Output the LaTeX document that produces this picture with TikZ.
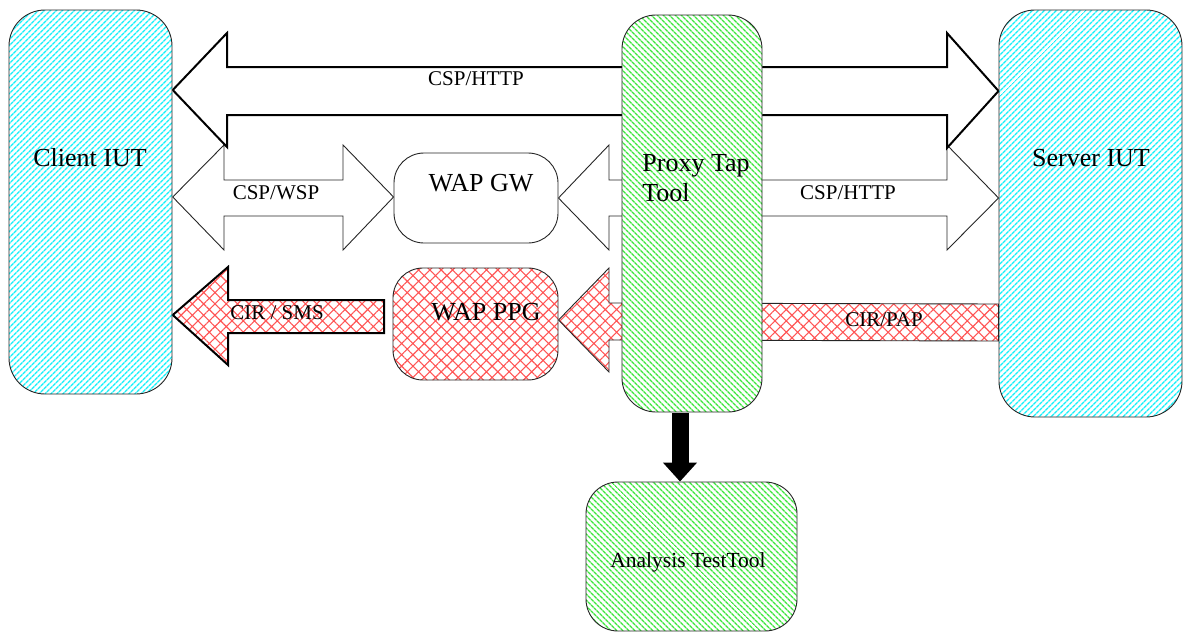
\documentclass[tikz,border=0pt]{standalone}
\usepackage{fontspec}
\setmainfont{Liberation Serif}
\usetikzlibrary{patterns.meta,arrows.meta}
\pgfdeclarelayer{background}
\pgfsetlayers{background,main}
\definecolor{hcyan}{RGB}{20,240,250}
\definecolor{hgreen}{RGB}{60,230,60}
\definecolor{hred}{RGB}{255,85,85}
\tikzset{
  boxbase/.style={draw=black!85, line width=0.9pt, inner sep=0pt, preaction={fill=white}},
  cyanbox/.style={boxbase, rounded corners=36pt, pattern={Lines[angle=45,distance=4pt,line width=1.5pt]}, pattern color=hcyan},
  greenbox/.style={boxbase, rounded corners=34pt, pattern={Lines[angle=-45,distance=4pt,line width=1.5pt]}, pattern color=hgreen},
  redfill/.style={preaction={fill=white}, pattern={Hatch[angle=45,distance=8pt,line width=1.1pt]}, pattern color=hred},
  wapbox/.style={draw=black!85, line width=0.9pt, inner sep=0pt, rounded corners=30pt, fill=white},
  thinarrow/.style={draw=black!85, line width=0.9pt, fill=white, line join=miter},
  thickarrow/.style={draw=black, line width=2pt, fill=white, line join=miter},
  bigtxt/.style={font=\fontsize{26}{30}\selectfont, inner sep=0pt},
  midtxt/.style={font=\fontsize{21}{24}\selectfont, inner sep=0pt},
  smalltxt/.style={font=\fontsize{21.5}{24}\selectfont, inner sep=0pt},
}
\begin{document}
\begin{tikzpicture}[x=1pt,y=-1pt]
\useasboundingbox (0,0) rectangle (1187,632);
% main boxes
\node[cyanbox, minimum width=163pt, minimum height=384pt] (client) at (90.5,202) {};
\node[cyanbox, minimum width=183pt, minimum height=407pt] (server) at (1090.5,213.5) {};
\node[wapbox, minimum width=164pt, minimum height=90pt] (gw) at (476,198) {};
\node[wapbox, redfill, minimum width=165pt, minimum height=112pt] (ppg) at (475.5,324) {};
\node[greenbox, minimum width=140pt, minimum height=397pt] (proxy) at (692,213.5) {};
\node[greenbox, rounded corners=32pt, minimum width=211pt, minimum height=149pt] (analysis) at (691.5,556.5) {};
% block arrows (behind boxes)
\begin{pgfonlayer}{background}
  % WAP GW <-> Server (CSP/HTTP)
  \path[thinarrow] (gw.east |- 0,198) -- (609,145) -- (609,180) -- (947,180) -- (947,145)
     -- (server.west |- 0,198) -- (947,250) -- (947,216) -- (609,216) -- (609,250) -- cycle;
  % Client <-> WAP GW (CSP/WSP)
  \path[thinarrow] (client.east |- 0,197) -- (224,145) -- (224,180) -- (343,180) -- (343,145)
     -- (gw.west |- 0,197) -- (343,250) -- (343,216) -- (224,216) -- (224,250) -- cycle;
  % Client <-> Server (CSP/HTTP)
  \path[thickarrow] (client.east |- 0,90) -- (227,33) -- (227,67) -- (947,67) -- (947,33)
     -- (server.west |- 0,91) -- (947,148) -- (947,115) -- (227,115) -- (227,147) -- cycle;
  % Server -> WAP PPG (CIR/PAP)
  \path[thinarrow, redfill] (ppg.east |- 0,320) -- (609,268) -- (609,303) -- (server.west |- 0,304)
     -- (server.west |- 0,341) -- (609,340) -- (609,372) -- cycle;
  % WAP PPG -> Client (CIR / SMS)
  \path[thickarrow, redfill] (client.east |- 0,315) -- (228,267) -- (228,300) -- (384,300)
     -- (384,333) -- (228,333) -- (228,365) -- cycle;
  % Proxy -> Analysis
  \draw[line width=17pt, -{Triangle[length=19pt,width=33pt]}] (proxy.south -| 680,0) -- (analysis.north -| 680,0);
\end{pgfonlayer}
% texts
\node[bigtxt] (clienttxt) at (90,158) {Client IUT};
\node[bigtxt] (servertxt) at (1091,158) {Server IUT};
\node[bigtxt] (gwtxt) at (481,183) {WAP GW};
\node[bigtxt] (ppgtxt) at (486,312) {WAP PPG};
\node[bigtxt, align=left] (proxytxt) at (696,178) {Proxy Tap\\Tool};
\node[smalltxt] (analysistxt) at (688,562) {Analysis TestTool};
\node[midtxt] (l1) at (476,79) {CSP/HTTP};
\node[midtxt] (l2) at (276,193) {CSP/WSP};
\node[midtxt] (l3) at (848,193) {CSP/HTTP};
\node[midtxt] (l4) at (277,313) {CIR / SMS};
\node[midtxt] (l5) at (884,320) {CIR/PAP};
\end{tikzpicture}
\end{document}
